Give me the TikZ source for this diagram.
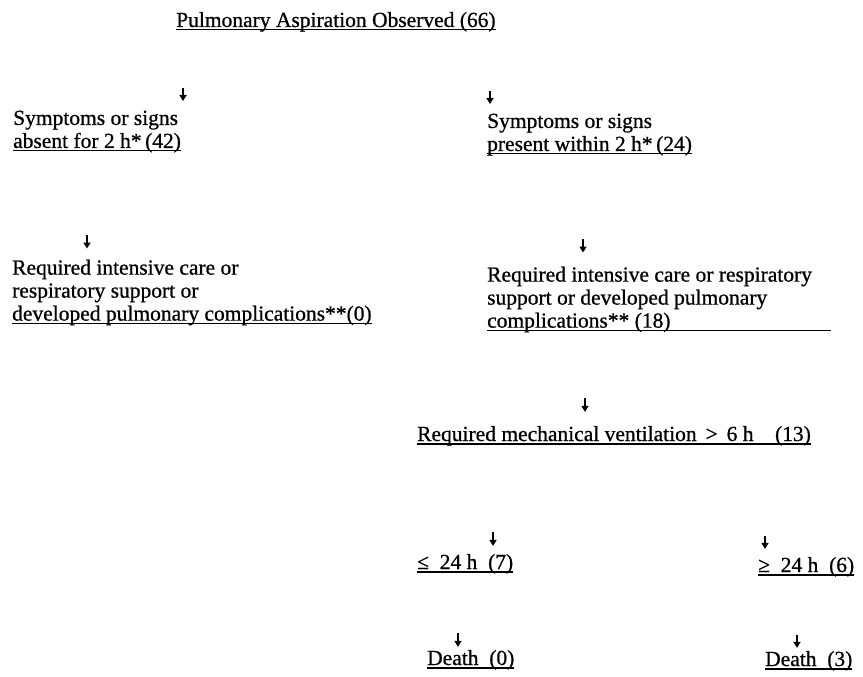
\documentclass[tikz,border=0pt]{standalone}
\usepackage{fontspec}
\setmainfont{Liberation Serif}[FakeBold=0.8]
\usetikzlibrary{positioning, arrows.meta, calc}
\newcommand{\uln}[1]{\setbox0\hbox{#1}\rlap{\rule[-3.5pt]{\wd0}{1.4pt}}\box0}
\tikzset{
  entry/.style={anchor=base west, align=left, inner sep=0pt, font=\fontsize{21.5}{23}\selectfont},
  block/.style={entry, anchor=north west},
  tick/.style={line width=1.6pt, -{Triangle[length=6pt,width=7pt]}, shorten >=#1},
  tick/.default=8pt
}

\begin{document}
\begin{tikzpicture}[x=1pt, y=-1pt]
        \useasboundingbox (0,0) rectangle (863,677);

        \node (asp) [entry] at (176,27) {\uln{Pulmonary Aspiration Observed (66)}};

        \node (absent) [block] at (13,110.5) {Symptoms or signs\\\uln{absent for 2 h*\,(42)}};
        \node (present) [block] at (487,113.5) {Symptoms or signs\\\uln{present within 2 h*\,(24)}};

        \node (careno) [block] at (12,259.5) {Required intensive care or\\respiratory support or\\\uln{developed pulmonary complications**(0)}};
        \node (careyes) [block] at (487,266.5) {Required intensive care or respiratory\\support or developed pulmonary\\\uln{complications** (18)\hspace{160pt}}};

        \node (mv) [entry] at (417,441) {\uln{Required mechanical ventilation \,>\, 6 h\quad (13)}};

        \node (short) [entry] at (417,569) {\uln{≤~ 24 h~~(7)}};
        \node (long) [entry] at (758,572) {\uln{≥~ 24 h~~(6)}};

        \node (deadshort) [entry] at (427,665) {\uln{Death\enskip(0)}};
        \node (deadlong) [entry] at (765,666) {\uln{Death\enskip(3)}};

        % arrow tails
        \coordinate (t1) at (183,88);
        \coordinate (t2) at (490,91);
        \coordinate (t3) at (87,235);
        \coordinate (t4) at (583,239);
        \coordinate (t5) at (585,398);
        \coordinate (t6) at (493,532);
        \coordinate (t7) at (765,536);
        \coordinate (t8) at (458,633);
        \coordinate (t9) at (797,635);

        \draw [tick=9.5pt] (t1) -- (t1 |- absent.north);
        \draw [tick=9.5pt] (t2) -- (t2 |- present.north);
        \draw [tick=11pt] (t3) -- (t3 |- careno.north);
        \draw [tick=14pt] (t4) -- (t4 |- careyes.north);
        \draw [tick=14pt] (t5) -- (t5 |- mv.north);
        \draw [tick] (t6) -- (t6 |- short.north);
        \draw [tick] (t7) -- (t7 |- long.north);
        \draw [tick=3pt] (t8) -- (t8 |- deadshort.north);
        \draw [tick=3pt] (t9) -- (t9 |- deadlong.north);

    \end{tikzpicture}
\end{document}
